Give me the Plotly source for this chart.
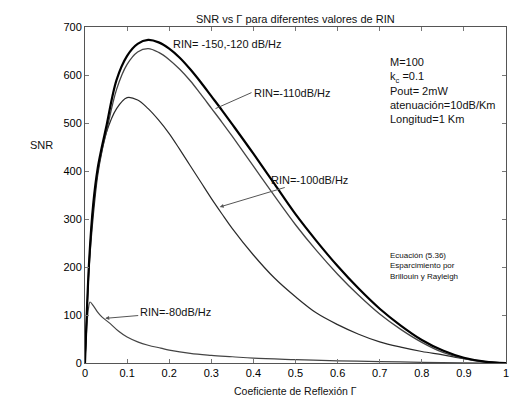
import plotly.graph_objects as go

# Reflection coefficient samples (Γ)
gamma = [0, 0.01, 0.02, 0.03, 0.04, 0.05, 0.075, 0.1, 0.125, 0.15, 0.175, 0.2,
         0.225, 0.25, 0.275, 0.3, 0.325, 0.35, 0.4, 0.45, 0.5, 0.55, 0.6, 0.65,
         0.7, 0.75, 0.8, 0.85, 0.9, 0.95, 1.0]

# SNR for each RIN value
snr_rin_150_120 = [0, 215, 335, 405, 450, 490, 590, 640, 665, 673, 668, 655,
                   636, 612, 585, 556, 527, 497, 436, 373, 310, 254, 202, 155,
                   113, 78, 48, 26, 11, 3, 0]
snr_rin_110 = [0, 212, 330, 398, 442, 478, 570, 622, 648, 655, 647, 632,
               612, 588, 560, 531, 502, 472, 410, 348, 288, 234, 185, 141,
               102, 70, 43, 22, 9, 2, 0]
snr_rin_100 = [0, 200, 310, 390, 440, 478, 530, 553, 548, 530, 506, 478,
               445, 411, 377, 343, 311, 280, 225, 177, 138, 104, 80, 60,
               44, 33, 24, 17, 9, 3, 0]

gamma_80 = [0, 0.004, 0.008, 0.012, 0.02, 0.03, 0.04, 0.06, 0.08, 0.1, 0.125,
            0.15, 0.18, 0.2, 0.25, 0.3, 0.35, 0.4, 0.5, 0.6, 0.7, 0.8, 0.9, 1.0]
snr_rin_80 = [0, 70, 112, 127, 119, 106, 96, 82, 66, 54, 44, 37, 31, 27, 20,
              16, 13, 10, 7, 4.5, 3, 1.5, 0.5, 0]

x_ticks = [0, 0.1, 0.2, 0.3, 0.4, 0.5, 0.6, 0.7, 0.8, 0.9, 1]
x_tick_text = ["0", "0.1", "0.2", "0.3", "0.4", "0.5", "0.6", "0.7", "0.8", "0.9", "1"]
y_ticks = [0, 100, 200, 300, 400, 500, 600, 700]

FONT = "Liberation Sans, Arial, sans-serif"

fig = go.Figure()
fig.add_trace(go.Scatter(x=gamma, y=snr_rin_100, mode="lines", line_shape="spline",
                         line=dict(color="#2a2a2a", width=1.2)))
fig.add_trace(go.Scatter(x=gamma_80, y=snr_rin_80, mode="lines", line_shape="spline",
                         line=dict(color="#444444", width=1.2)))
fig.add_trace(go.Scatter(x=gamma, y=snr_rin_110, mode="lines", line_shape="spline",
                         line=dict(color="#444444", width=1.3)))
fig.add_trace(go.Scatter(x=gamma, y=snr_rin_150_120, mode="lines", line_shape="spline",
                         line=dict(color="#000000", width=2.2)))

axis_common = dict(showline=True, linecolor="#555555", linewidth=1, mirror="ticks",
                   ticks="inside", ticklen=4, tickcolor="#777777", showgrid=False,
                   zeroline=False, tickfont=dict(family=FONT, size=11, color="#000000"))

fig.update_xaxes(range=[0, 1], tickvals=x_ticks, ticktext=x_tick_text,
                 ticklabeloverflow="allow", **axis_common)
fig.update_yaxes(range=[0, 700], tickvals=y_ticks, **axis_common)

annotations = [
    dict(x=0.5, y=1.0, xref="paper", yref="paper", yshift=16,
         text="SNR vs Γ para diferentes valores de RIN", showarrow=False,
         font=dict(size=11, color="#111111")),
    dict(x=0.5, y=0, xref="paper", yref="paper", yshift=-36,
         text="Coeficiente de Reflexión Γ", showarrow=False,
         font=dict(size=10.5, color="#111111")),
    dict(x=-0.135, y=0.65, xref="paper", yref="paper",
         text="SNR", showarrow=False, font=dict(size=11, color="#111111")),
    # curve labels
    dict(x=0.205, y=665, xanchor="left", text="RIN= -150,-120 dB/Hz",
         showarrow=False, font=dict(size=11, color="#111111")),
    dict(x=0.31, y=530, ax=36, ay=-16, xanchor="left",
         text="RIN=-110dB/Hz", showarrow=True, arrowhead=0, arrowwidth=1,
         arrowcolor="#555555", font=dict(size=11, color="#111111")),
    dict(x=0.32, y=325, ax=90, ay=-27,
         text="RIN=-100dB/Hz", showarrow=True, arrowhead=2, arrowsize=0.8,
         arrowwidth=1, arrowcolor="#555555", font=dict(size=11, color="#111111")),
    dict(x=0.048, y=93, ax=70, ay=-6,
         text="RIN=-80dB/Hz", showarrow=True, arrowhead=2, arrowsize=0.8,
         arrowwidth=1, arrowcolor="#555555", font=dict(size=11, color="#111111")),
    # parameter block
    dict(x=0.72, y=0.92, xref="x", yref="paper", xanchor="left", yanchor="top",
         align="left", showarrow=False,
         text="M=100<br>k<sub>c</sub> =0.1<br>Pout= 2mW<br>atenuación=10dB/Km<br>Longitud=1 Km",
         font=dict(size=11, color="#111111")),
    dict(x=0.72, y=0.34, xref="x", yref="paper", xanchor="left", yanchor="top",
         align="left", showarrow=False,
         text="Ecuación (5.36)<br>Esparcimiento por<br>Brillouin y Rayleigh",
         font=dict(size=8, color="#111111")),
]

fig.update_layout(
    width=511, height=402,
    margin=dict(l=85, r=2, t=27, b=39),
    paper_bgcolor="white", plot_bgcolor="white",
    showlegend=False,
    font=dict(family=FONT, color="#111111"),
    annotations=annotations,
)

fig.write_html("out.html")
